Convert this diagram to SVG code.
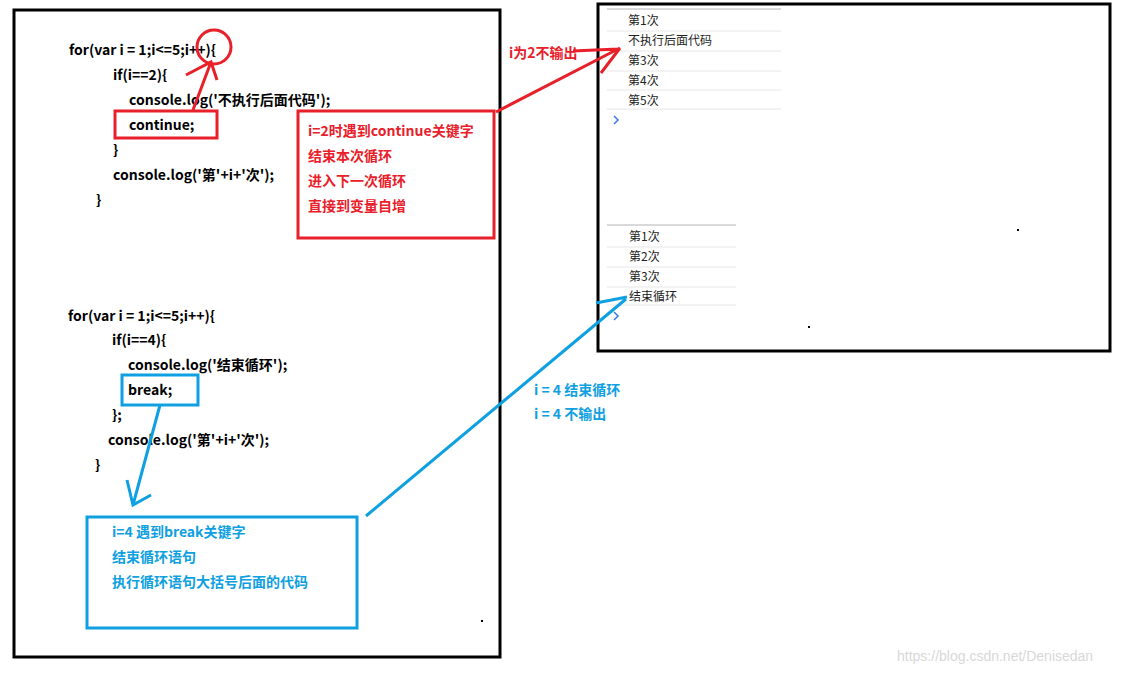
<svg xmlns="http://www.w3.org/2000/svg" width="1127" height="673" viewBox="0 0 1127 673">
<style>
.code{font-family:"Noto Sans CJK SC","Liberation Sans",sans-serif;font-size:14px;font-weight:bold;fill:#000}
.red{font-family:"Noto Sans CJK SC","Liberation Sans",sans-serif;font-size:14px;font-weight:bold;fill:#e8202a}
.blue{font-family:"Noto Sans CJK SC","Liberation Sans",sans-serif;font-size:14px;font-weight:bold;fill:#0ea0e0}
.con{font-family:"Noto Sans CJK SC","Liberation Sans",sans-serif;font-size:12px;fill:#222}
.row{stroke:#e6e6e6;stroke-width:1}
.rl{stroke:#e8202a;stroke-width:3;fill:none}
.bl{stroke:#0ea0e0;stroke-width:3;fill:none}
</style>
<rect width="1127" height="673" fill="#fff"/>
<g id="left-panel">
<rect x="14" y="10" width="486" height="647" fill="none" stroke="#000" stroke-width="3"/>
<text class="code" x="69" y="55">for(var i = 1;i&lt;=5;i++){</text>
<text class="code" x="113" y="80">if(i==2){</text>
<text class="code" x="129" y="105">console.log('不执行后面代码');</text>
<text class="code" x="129" y="130">continue;</text>
<text class="code" x="113" y="155">}</text>
<text class="code" x="113" y="180">console.log('第'+i+'次');</text>
<text class="code" x="96" y="205">}</text>
<text class="code" x="68" y="321">for(var i = 1;i&lt;=5;i++){</text>
<text class="code" x="112" y="345">if(i==4){</text>
<text class="code" x="128" y="370">console.log('结束循环');</text>
<text class="code" x="128" y="395">break;</text>
<text class="code" x="112" y="420">};</text>
<text class="code" x="108" y="445">console.log('第'+i+'次');</text>
<text class="code" x="95" y="470">}</text>
<rect x="481" y="620" width="2" height="2" fill="#000"/>
</g>
<g id="red-annot">
<rect x="115" y="111" width="102" height="27" class="rl"/>
<circle cx="214" cy="47" r="17" class="rl" stroke-width="2"/>
<rect x="298" y="111" width="196" height="127" class="rl"/>
<text class="red" x="308" y="136">i=2时遇到continue关键字</text>
<text class="red" x="308" y="161">结束本次循环</text>
<text class="red" x="308" y="186">进入下一次循环</text>
<text class="red" x="308" y="211">直接到变量自增</text>
<text class="red" x="509" y="58">i为2不输出</text>
</g>
<g id="blue-annot">
<rect x="122" y="375" width="76" height="30" class="bl"/>
<rect x="87" y="517" width="270" height="111" class="bl"/>
<text class="blue" x="112" y="537">i=4 遇到break关键字</text>
<text class="blue" x="112" y="562">结束循环语句</text>
<text class="blue" x="112" y="587">执行循环语句大括号后面的代码</text>
<text class="blue" x="534" y="395">i = 4 结束循环</text>
<text class="blue" x="534" y="419">i = 4 不输出</text>
</g>
<g id="console-panel">
<rect x="598" y="4" width="512" height="347" fill="none" stroke="#000" stroke-width="3"/>
<line x1="607" y1="9" x2="781" y2="9" stroke="#ccc" stroke-width="1.5"/>
<line x1="607" y1="31" x2="781" y2="31" class="row"/>
<line x1="607" y1="51" x2="781" y2="51" class="row"/>
<line x1="607" y1="71" x2="781" y2="71" class="row"/>
<line x1="607" y1="90" x2="781" y2="90" class="row"/>
<line x1="607" y1="109" x2="781" y2="109" class="row"/>
<text class="con" x="628" y="25">第1次</text>
<text class="con" x="628" y="45">不执行后面代码</text>
<text class="con" x="628" y="65">第3次</text>
<text class="con" x="628" y="85">第4次</text>
<text class="con" x="628" y="105">第5次</text>
<path d="M614 116 L618 120 L614 124" stroke="#3b78e7" stroke-width="1.5" fill="none"/>
<line x1="607" y1="225" x2="736" y2="225" stroke="#ccc" stroke-width="1.5"/>
<line x1="607" y1="247" x2="736" y2="247" class="row"/>
<line x1="607" y1="267" x2="736" y2="267" class="row"/>
<line x1="607" y1="287" x2="736" y2="287" class="row"/>
<line x1="607" y1="305" x2="736" y2="305" class="row"/>
<text class="con" x="629" y="241">第1次</text>
<text class="con" x="629" y="261">第2次</text>
<text class="con" x="629" y="281">第3次</text>
<text class="con" x="629" y="301">结束循环</text>
<path d="M614 312 L618 316 L614 320" stroke="#3b78e7" stroke-width="1.5" fill="none"/>
<rect x="1017" y="229" width="2" height="2" fill="#000"/>
<rect x="808" y="326" width="2" height="2" fill="#000"/>
</g>
<g id="connectors">
<path class="rl" d="M193 110 L211 62 M186 75 L211 62 L217 80"/>
<path class="rl" d="M496 112 L620 48 M573 51 L618 49 M601 73 L620 48"/>
<path class="bl" d="M160 405 L133 505 M127 480 L133 505 L151 495"/>
<path class="bl" d="M366 516 L626 299 M596 303 L627 297"/>
</g>
<text x="897" y="661" font-family="Liberation Sans, sans-serif" font-size="14" fill="#d8d8d8">https://blog.csdn.net/Denisedan</text>
</svg>
